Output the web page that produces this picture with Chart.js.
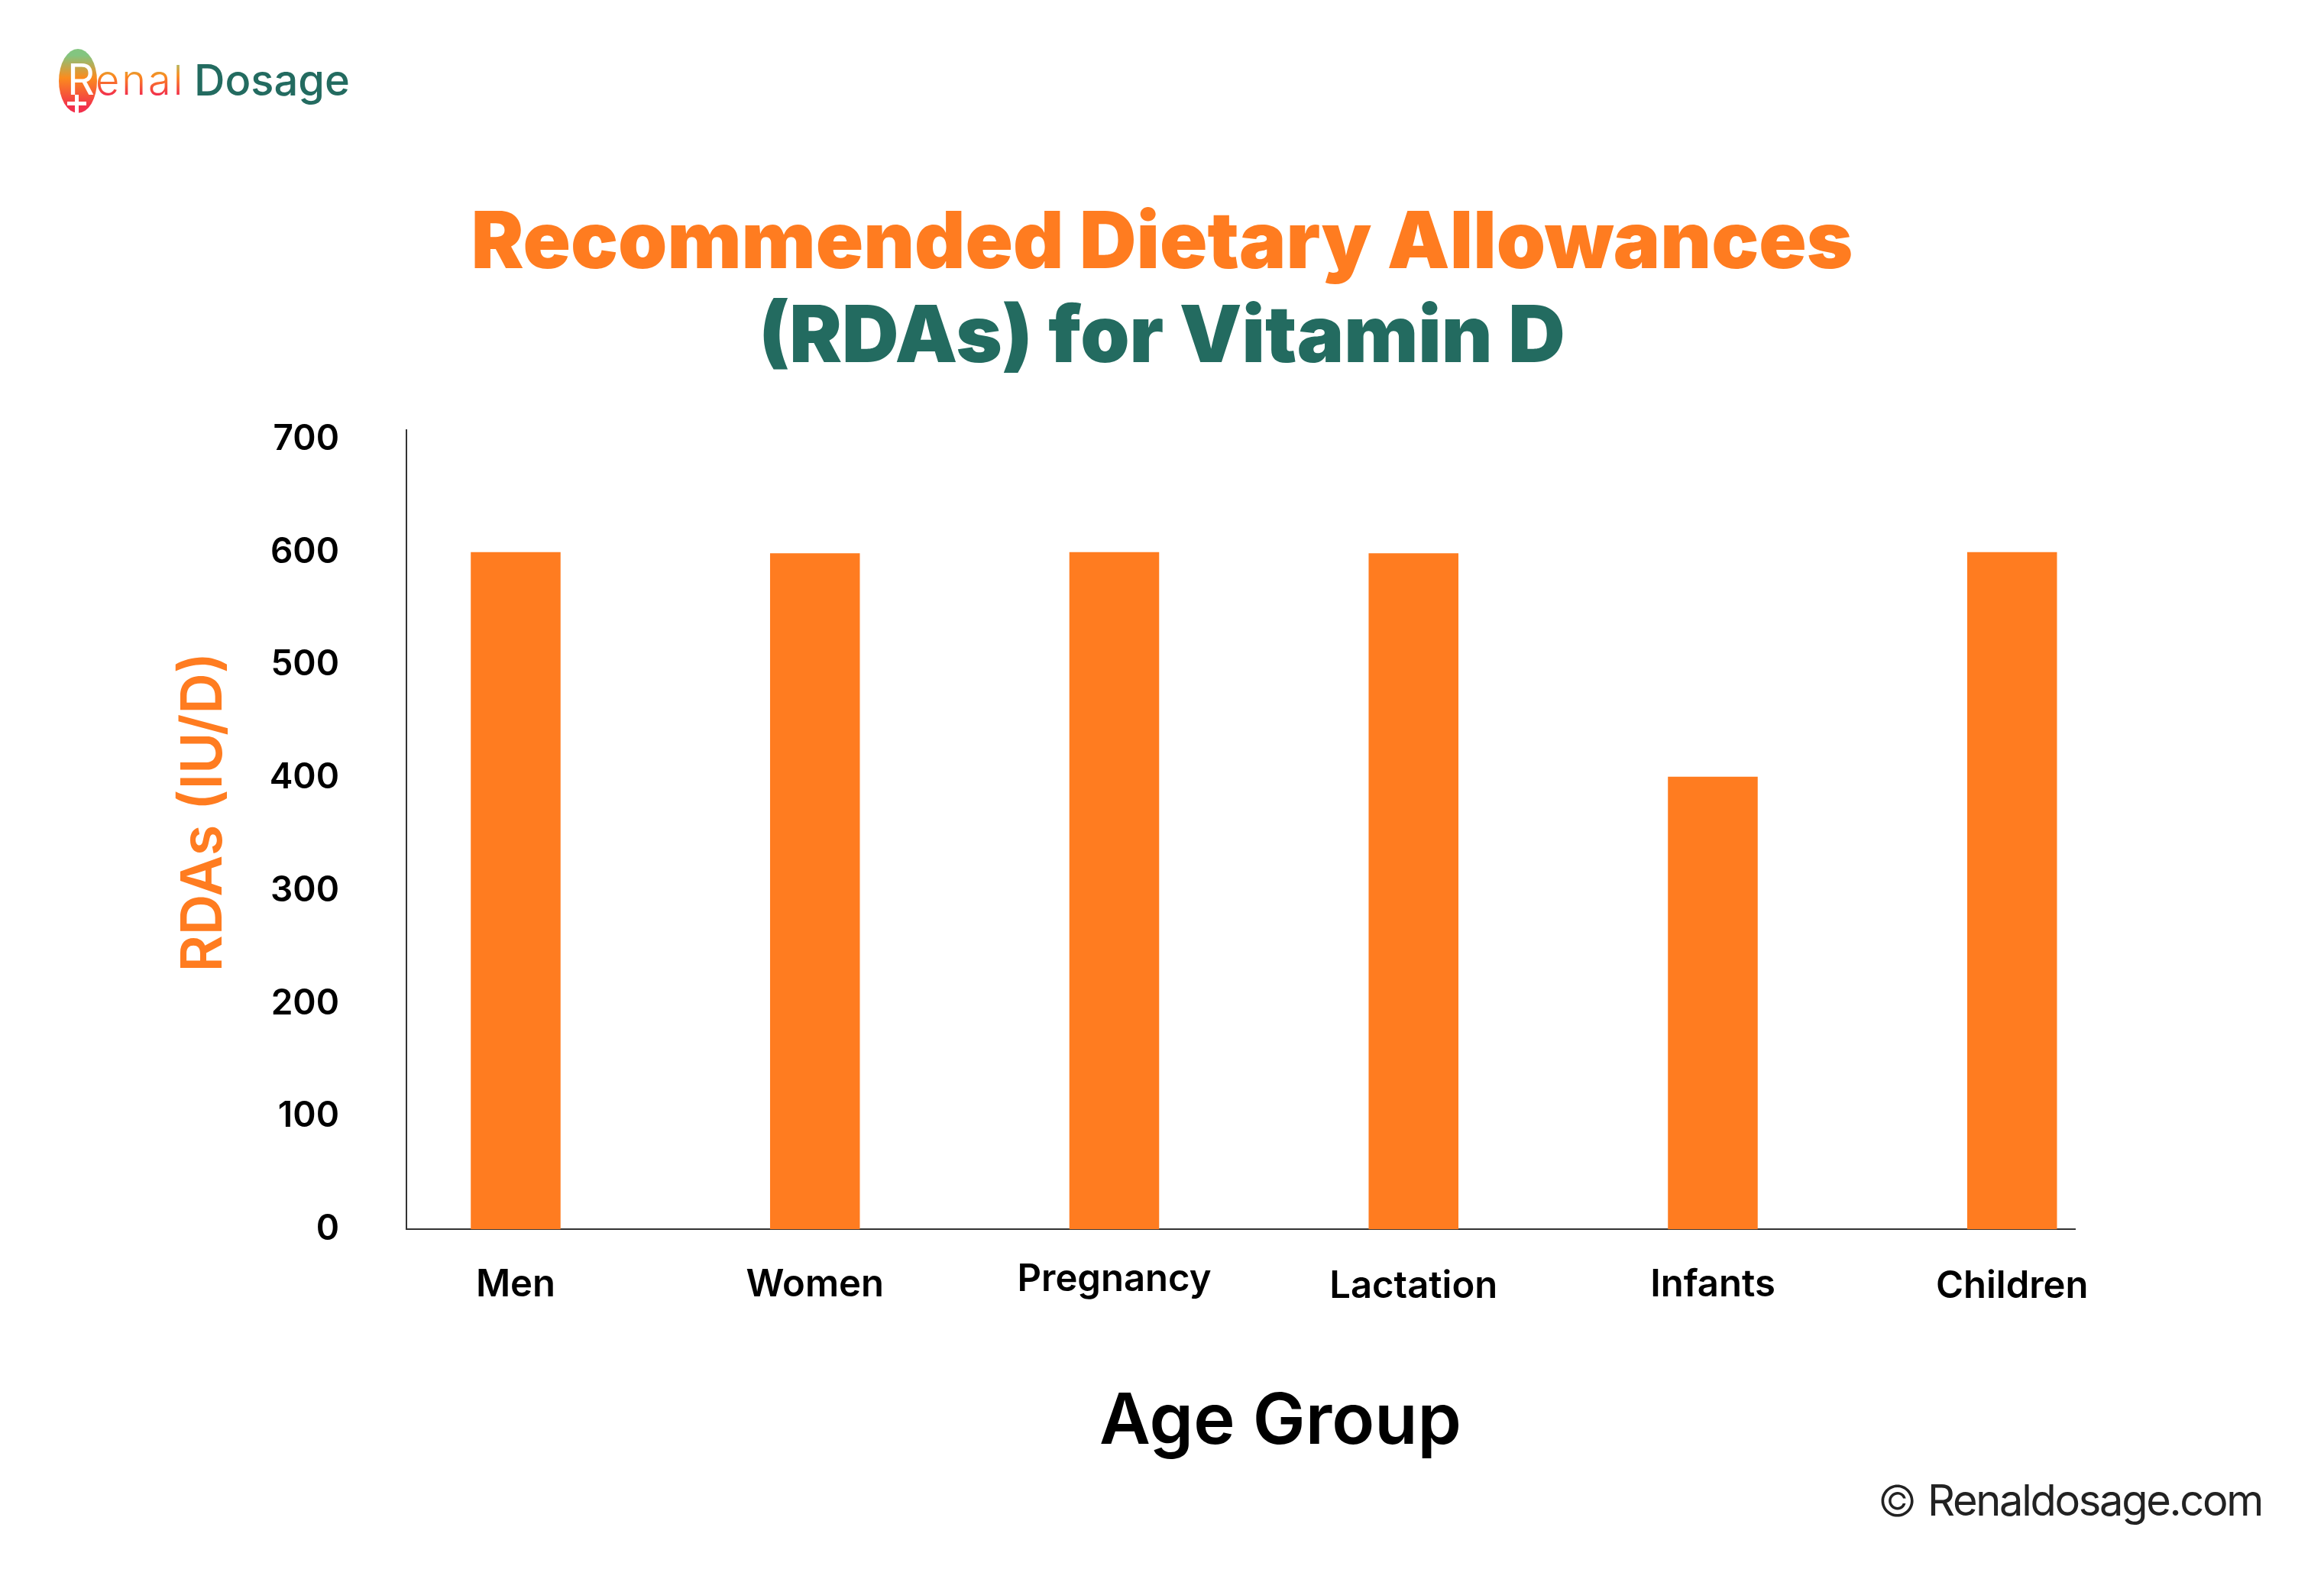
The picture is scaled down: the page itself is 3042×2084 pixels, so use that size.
<!DOCTYPE html>
<html>
<head>
<meta charset="utf-8">
<title>Recommended Dietary Allowances (RDAs) for Vitamin D</title>
<script src="https://cdn.jsdelivr.net/npm/chart.js@4/dist/chart.umd.js"></script>
<style>
    html, body { margin: 0; padding: 0; background: #fff; }
    canvas { display: block; }
</style>
</head>
<body>
<canvas id="rdaChart" width="3042" height="2084"></canvas>
<script>
const groups = ['Men', 'Women', 'Pregnancy', 'Lactation', 'Infants', 'Children'];
const rdaValues = [600, 599, 600, 599, 401, 600];
const yTickValues = [0, 100, 200, 300, 400, 500, 600, 700];
const titleLine1 = 'Recommended Dietary Allowances';
const titleLine2 = '(RDAs) for Vitamin D';
const xTitle = 'Age Group';
const yTitle = 'RDAs (IU/D)';
const copyright = 'Renaldosage.com';

const ORANGE = '#ff7c20';
const TEAL = '#236b60';

// The x labels in the picture are not quite on one line
const labelNudge = [0, 0, -7, 2, 0, 2];

const labelNudgePlugin = {
    id: 'labelNudge',
    beforeDraw(chart) {
        chart.scales.x.getLabelItems().forEach((item, i) => {
            item.options.translation[1] += labelNudge[i];
        });
    }
};

// Logo, axis titles and the copyright line sit off-centre, so they are drawn here
const extrasPlugin = {
    id: 'extras',
    afterDraw(chart) {
        const ctx = chart.ctx;
        ctx.save();

        // kidney shape of the logo
        const kidney = ctx.createLinearGradient(0, 64, 0, 148);
        kidney.addColorStop(0.1, '#83c580');
        kidney.addColorStop(0.45, '#fb8c1e');
        kidney.addColorStop(0.9, '#f2304b');
        ctx.fillStyle = kidney;
        ctx.beginPath();
        ctx.ellipse(102, 106, 25, 42, 0, 0, Math.PI * 2);
        ctx.fill();
        ctx.fillStyle = '#fff';
        ctx.textAlign = 'left';
        ctx.textBaseline = 'alphabetic';
        ctx.font = '400 56px Inter';
        ctx.fillText('R', 88, 124);
        ctx.fillRect(88, 133, 25, 5);
        ctx.fillRect(98, 124, 5, 24);

        const enal = ctx.createLinearGradient(0, 82, 0, 124);
        enal.addColorStop(0, '#a9c06a');
        enal.addColorStop(0.4, '#fb8c1e');
        enal.addColorStop(1, '#f2304b');
        ctx.fillStyle = enal;
        ctx.font = '300 54px Inter';
        ctx.letterSpacing = '3px';
        ctx.fillText('enal', 125, 124);
        ctx.letterSpacing = '0px';
        ctx.fillStyle = TEAL;
        ctx.font = '500 56px Inter';
        ctx.fillText('Dosage', 254, 125);

        // copyright
        ctx.fillStyle = '#222';
        ctx.font = '300 56px Inter';
        ctx.fillText('©', 2458, 1985);
        ctx.font = '400 56px Inter';
        ctx.letterSpacing = '-2.3px';
        ctx.fillText(copyright, 2523, 1984);
        ctx.letterSpacing = '0px';

        // axis titles
        ctx.textAlign = 'center';
        ctx.textBaseline = 'middle';
        ctx.fillStyle = '#000';
        ctx.font = '600 92px Inter';
        ctx.fillText(xTitle, 1676, 1862);
        ctx.translate(268, 1063);
        ctx.rotate(-Math.PI / 2);
        ctx.fillStyle = ORANGE;
        ctx.font = '600 74px Inter';
        ctx.fillText(yTitle, 0, 0);
        ctx.restore();
    }
};

new Chart(document.getElementById('rdaChart'), {
    type: 'bar',
    data: {
        datasets: [{
            data: groups.map((g, i) => ({ x: i, y: rdaValues[i] })),
            backgroundColor: ORANGE,
            barPercentage: 0.3,
            categoryPercentage: 1
        }]
    },
    options: {
        responsive: false,
        devicePixelRatio: 1,
        animation: false,
        layout: { padding: { top: 30, left: 326, right: 326, bottom: 328 } },
        plugins: {
            legend: { display: false },
            tooltip: { enabled: false },
            title: {
                display: true,
                text: titleLine1,
                color: ORANGE,
                font: { family: 'Inter', size: 103, weight: '900' },
                padding: { top: 228, bottom: 0 }
            },
            subtitle: {
                display: true,
                text: titleLine2,
                color: TEAL,
                font: { family: 'Inter', size: 103, weight: '900' },
                padding: { top: 0, bottom: 58 }
            }
        },
        scales: {
            x: {
                type: 'linear',
                offset: false,
                min: -0.365,
                max: 5.21,
                grid: { display: false, drawTicks: false },
                border: { color: '#333', width: 2 },
                afterBuildTicks(scale) { scale.ticks = groups.map((g, i) => ({ value: i })); },
                ticks: {
                    padding: 44,
                    color: '#000',
                    font: { family: 'Inter', size: 49, weight: '600' },
                    maxRotation: 0,
                    autoSkip: false,
                    callback: v => groups[v]
                }
            },
            y: {
                min: 0,
                max: 708,
                grid: { display: false, drawTicks: false },
                border: { color: '#333', width: 2 },
                afterBuildTicks(scale) { scale.ticks = yTickValues.map(v => ({ value: v })); },
                afterFit(scale) { scale.width = 206; },
                ticks: {
                    padding: 88,
                    color: '#000',
                    font: { family: 'Inter', size: 46, weight: '600' }
                }
            }
        }
    },
    plugins: [labelNudgePlugin, extrasPlugin]
});
</script>
</body>
</html>
